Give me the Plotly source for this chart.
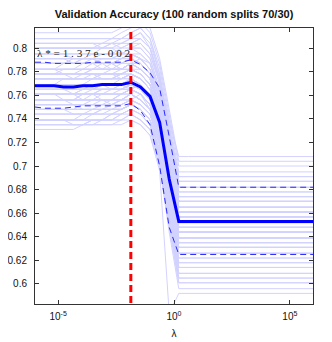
import plotly.graph_objects as go

# ---------------- data ----------------
lambdas = [1.00e-6, 2.59e-6, 6.72e-6, 1.74e-5, 4.52e-5, 1.17e-4, 3.04e-4, 7.88e-4,
           2.04e-3, 5.30e-3, 1.37e-2, 3.56e-2, 9.24e-2, 0.240, 0.621, 1.61, 4.18,
           10.8, 28.1, 72.8, 189, 489, 1270, 3290, 8530, 22100, 57400, 149000,
           386000, 1.0e6]
lambda_star = 1.37e-2
star_label = "λ * = 1 . 3 7 e - 0 0 2"

# per-run accuracy (x1000) for the first 15 lambdas
run_head = [
    [769,769,769,769,769,769,774,774,774,774,778,774,765,744,700],
    [752,752,752,752,752,748,748,752,752,756,761,756,748,726,687],
    [787,787,787,787,787,791,791,791,791,795,795,791,782,757,713],
    [765,765,765,765,765,765,765,769,769,769,765,769,761,735,692],
    [739,739,739,739,739,739,744,744,748,748,752,748,739,718,670],
    [778,778,778,782,782,782,782,782,782,782,787,787,778,752,705],
    [800,800,800,800,800,800,800,804,804,804,808,813,800,770,740],
    [765,765,765,765,765,769,769,769,765,769,769,765,756,731,683],
    [748,748,748,748,748,748,748,748,752,756,756,761,748,722,665],
    [774,774,774,774,774,774,778,778,778,778,782,778,769,744,696],
    [756,756,756,756,756,756,756,756,756,761,765,761,752,731,687],
    [787,787,787,787,787,787,787,791,791,791,791,787,778,752,709],
    [735,735,735,735,735,735,739,739,744,744,748,744,735,705,652],
    [804,804,804,804,804,804,804,804,808,808,813,817,808,778,730],
    [774,774,774,774,774,774,774,774,774,774,774,769,761,739,696],
    [748,748,748,748,748,752,752,752,752,752,756,752,744,718,674],
    [787,787,787,787,791,791,791,787,787,791,795,791,787,761,718],
    [761,761,761,761,761,765,765,765,765,765,765,769,761,739,696],
    [778,778,778,778,778,778,778,778,782,782,782,782,774,748,705],
    [735,735,735,735,735,735,739,739,739,744,744,739,731,700,644],
    [795,795,795,795,791,791,791,795,795,800,800,804,795,770,726],
    [756,756,756,756,756,761,761,756,756,761,761,756,748,722,678],
    [778,778,778,778,778,782,782,782,782,782,787,782,774,752,709],
    [765,765,765,765,765,765,765,769,769,769,774,769,761,735,687],
    [808,808,808,808,808,808,808,808,808,813,817,822,813,787,744],
    [744,744,744,744,744,744,744,744,744,748,752,748,739,713,665],
    [769,769,769,774,774,774,774,774,774,778,778,774,765,739,692],
    [756,756,756,756,752,752,752,756,756,756,761,756,748,726,683],
    [782,782,782,782,782,782,787,787,782,782,787,791,782,757,713],
    [761,761,761,761,761,765,765,765,765,765,769,765,756,731,683],
    [795,795,795,795,795,795,795,795,795,795,800,800,791,765,722],
    [739,739,739,739,739,744,744,744,744,748,752,748,739,713,661],
    [774,774,774,774,774,774,774,774,774,778,782,778,769,744,700],
    [761,761,761,761,761,761,761,761,765,765,765,761,752,726,678],
    [787,787,787,787,787,787,787,787,787,791,795,795,787,761,713],
    [765,765,765,765,765,765,769,769,769,769,774,769,761,735,692],
    [748,748,748,748,748,748,748,748,748,752,756,752,744,718,670],
    [782,782,782,778,778,778,782,782,782,782,787,782,774,748,705],
    [804,804,804,804,804,804,804,800,804,808,808,813,804,778,735],
    [761,761,761,761,761,761,761,765,765,765,769,765,756,731,687],
    [739,739,739,739,735,735,735,739,739,739,744,739,731,705,652],
    [774,774,774,774,774,778,778,774,774,778,778,774,765,739,696],
    [791,791,791,791,791,791,795,795,795,795,800,795,787,761,718],
    [752,752,752,752,752,752,756,756,752,752,756,752,744,722,678],
    [769,769,769,769,769,769,769,769,769,774,774,769,761,739,696],
    [782,782,782,787,787,787,787,787,787,787,791,787,778,752,709],
    [748,748,748,748,744,744,748,748,748,748,752,748,739,713,665],
    [765,765,765,765,765,765,765,765,765,765,769,765,756,735,692],
    [800,800,800,800,800,800,800,800,800,804,804,808,800,774,730],
    [756,756,756,756,756,756,761,761,761,761,765,761,752,726,683],
    [778,778,778,778,778,778,778,778,778,778,782,778,769,744,700],
    [739,739,739,739,739,739,739,739,739,744,748,744,735,709,656],
    [774,774,774,774,774,774,774,778,778,774,778,774,765,739,692],
    [791,791,791,791,787,787,791,791,791,791,795,791,782,757,713],
    [761,761,761,756,756,761,761,761,761,765,765,761,752,726,678],
    [752,752,752,752,752,752,752,752,756,756,761,756,748,722,674],
    [778,778,778,778,774,774,774,778,778,778,782,778,769,744,700],
    [813,813,813,813,813,813,813,813,813,817,822,826,817,791,748],
    [765,765,765,765,765,765,765,765,765,769,769,765,756,731,687],
    [731,731,731,731,731,735,735,735,735,739,739,735,726,696,575],
    [782,782,782,782,782,787,787,782,782,787,787,782,774,748,705],
    [756,756,756,756,756,756,756,756,756,756,761,756,748,722,678],
    [795,795,795,795,795,795,795,800,800,795,800,800,791,765,722],
    [769,769,769,769,769,769,769,769,769,769,774,769,761,739,696],
    [744,744,744,744,744,744,744,748,748,748,752,748,739,713,670],
    [782,782,782,782,782,782,782,782,787,782,787,782,774,748,705],
    [765,765,765,765,761,761,765,765,765,765,769,765,756,731,687],
    [800,800,800,800,800,800,800,800,800,800,804,804,795,770,726],
    [752,752,752,752,752,752,752,752,752,756,756,752,744,718,674],
    [774,774,774,774,774,774,774,774,774,774,778,774,765,739,696],
    [739,739,739,739,739,739,739,739,744,744,748,744,735,709,661],
    [787,787,787,787,787,787,787,787,787,787,791,787,778,752,709],
    [769,769,769,769,765,765,765,769,769,769,774,769,761,735,692],
    [748,748,748,748,748,748,748,748,748,748,752,748,739,713,665],
    [778,778,778,778,778,778,782,782,782,782,787,782,774,748,705],
    [761,761,761,761,761,761,761,761,761,761,765,761,752,726,683],
    [800,800,800,800,800,800,800,800,804,800,804,808,800,774,730],
    [769,769,769,769,769,769,769,769,769,769,774,769,761,735,692],
    [739,739,739,739,739,739,739,739,739,739,744,739,731,705,656],
    [787,787,787,787,787,787,787,787,787,787,791,787,778,752,709],
    [761,761,761,761,761,761,761,765,765,765,765,761,752,726,683],
    [778,778,778,778,778,778,778,778,778,778,782,778,769,744,700],
    [756,756,756,756,756,756,756,756,756,756,761,756,748,722,674],
    [808,808,808,808,808,808,808,808,808,808,813,817,808,783,739],
    [774,774,774,774,774,774,774,774,774,774,778,774,765,739,696],
    [744,744,744,744,744,744,744,748,748,748,752,748,739,709,661],
    [787,787,787,787,787,791,791,787,787,791,791,787,778,752,709],
    [761,761,761,761,761,756,756,761,761,761,765,761,752,726,678],
    [778,778,778,778,778,778,778,778,778,782,782,778,769,744,700],
    [774,774,774,774,774,774,774,774,774,774,778,774,765,739,692],
    [791,791,791,791,791,791,791,791,791,795,795,791,782,757,718],
    [752,752,752,752,752,752,752,752,752,752,756,752,744,718,670],
    [761,761,761,761,761,761,761,761,761,761,765,761,752,726,683],
    [782,782,782,782,782,782,782,787,787,782,787,782,774,748,705],
    [735,735,735,735,735,735,735,735,735,735,739,735,726,700,648],
    [778,778,778,778,778,778,778,778,778,778,782,778,769,744,700],
    [804,804,804,804,804,804,804,804,804,804,808,808,800,774,730],
    [756,756,756,756,756,756,756,756,756,761,761,756,748,722,674],
    [765,765,765,765,765,765,765,765,765,765,769,765,756,731,687],
    [791,791,791,791,791,791,791,791,791,791,795,791,782,757,713],
]
# per-run accuracy (x1000) for large lambdas (constant = majority-class rate)
run_tail = [652,639,665,657,622,661,708,644,609,657,648,670,601,687,652,631,674,
            657,661,596,682,635,665,644,700,618,648,639,670,639,678,614,657,631,
            670,652,626,661,691,644,605,652,674,635,657,665,622,648,687,644,657,
            609,648,670,635,626,661,704,644,592,661,639,678,652,626,665,648,682,
            631,657,614,665,652,618,661,639,691,648,605,670,644,661,631,695,652,
            614,670,635,657,648,674,626,639,665,601,657,687,631,644,670]

mean_acc = [0.768,0.768,0.768,0.767,0.767,0.768,0.768,0.769,0.769,0.769,0.771,
            0.767,0.759,0.737,0.689] + [0.653] * 15
upper_acc = [0.788,0.788,0.787,0.787,0.787,0.787,0.788,0.788,0.788,0.788,0.790,
             0.786,0.779,0.766,0.725] + [0.682] * 15
lower_acc = [0.750,0.749,0.749,0.749,0.750,0.751,0.751,0.751,0.751,0.751,0.753,
             0.747,0.735,0.700,0.648] + [0.625] * 15

y_ticks = [0.6, 0.62, 0.64, 0.66, 0.68, 0.7, 0.72, 0.74, 0.76, 0.78, 0.8]
y_tick_text = ["0.6", "0.62", "0.64", "0.66", "0.68", "0.7", "0.72", "0.74", "0.76", "0.78", "0.8"]
x_ticks = [1e-5, 1, 1e5]
x_tick_text = ["10<sup>-5</sup>", "10<sup>0</sup>", "10<sup>5</sup>"]
title_text = "<b>Validation Accuracy (100 random splits 70/30)</b>"

# ---------------- figure ----------------
# page body has an 8px default margin, so the figure is sized to fit the
# 332x342 window: 324x334
W, H = 324, 334

fig = go.Figure()
for head, tail in zip(run_head, run_tail):
    ys = [v / 1000 for v in head] + [tail / 1000] * (len(lambdas) - len(head))
    fig.add_trace(go.Scatter(x=lambdas, y=ys, mode="lines",
                             line=dict(color="rgb(210,210,255)", width=1),
                             hoverinfo="skip", showlegend=False))

for arr in (upper_acc, lower_acc):
    fig.add_trace(go.Scatter(x=lambdas, y=arr, mode="lines",
                             line=dict(color="rgb(40,40,255)", width=1, dash="6px,4px"),
                             showlegend=False))
fig.add_trace(go.Scatter(x=lambdas, y=mean_acc, mode="lines",
                         line=dict(color="rgb(0,0,255)", width=3), showlegend=False))
fig.add_trace(go.Scatter(x=[lambda_star, lambda_star], y=[0.5, 0.9], mode="lines",
                         line=dict(color="rgb(255,0,0)", width=3, dash="7px,4px"),
                         showlegend=False))

fig.add_annotation(text=star_label, xref="paper", yref="y", x=0.0, y=0.796,
                   xanchor="left", yanchor="middle", showarrow=False,
                   font=dict(family="Liberation Serif", size=11.2, color="#222"))

axis_common = dict(showline=True, linecolor="#333", linewidth=1, mirror="ticks",
                   ticks="inside", ticklen=4, tickcolor="#333", showgrid=False,
                   zeroline=False, automargin=False,
                   tickfont=dict(family="Liberation Sans", size=10, color="#111"))

fig.update_layout(
    width=W, height=H,
    margin=dict(l=27, r=19, t=20, b=38, autoexpand=False),
    plot_bgcolor="white", paper_bgcolor="white",
    title=dict(text=title_text, x=0.5, xref="paper", xanchor="center",
               y=1 - 6.5 / H, yref="container", yanchor="middle", automargin=False,
               font=dict(family="Liberation Sans", size=11, color="#111")),
    xaxis=dict(type="log", range=[-6, 6], tickvals=x_ticks, ticktext=x_tick_text,
               ticklabelstandoff=3,
               title=dict(text="λ", standoff=8,
                          font=dict(family="Liberation Sans", size=10, color="#111")),
               **axis_common),
    yaxis=dict(range=[0.583, 0.817], tickvals=y_ticks, ticktext=y_tick_text,
               ticklabelstandoff=5, **axis_common),
)

fig.write_html("out.html")
